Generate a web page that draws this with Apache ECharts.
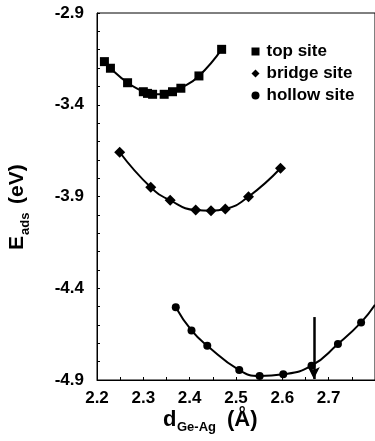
<!DOCTYPE html>
<html>
<head>
<meta charset="utf-8">
<script src="https://cdn.jsdelivr.net/npm/echarts@6/dist/echarts.min.js"></script>
<style>
html,body{margin:0;padding:0;background:#fff;}
#c{width:375px;height:441px;}
</style>
</head>
<body>
<div id="c"></div>
<script>
// ---- data ----
const xTickLabels = [2.2, 2.3, 2.4, 2.5, 2.6, 2.7];
const xTickValues = [2.2, 2.25, 2.3, 2.35, 2.4, 2.45, 2.5, 2.55, 2.6, 2.65, 2.7, 2.75, 2.8];
const yTickLabels = [-4.9, -4.4, -3.9, -3.4, -2.9];
const yTickValues = [-4.9, -4.8, -4.7, -4.6, -4.5, -4.4, -4.3, -4.2, -4.1, -4.0, -3.9, -3.8, -3.7, -3.6, -3.5, -3.4, -3.3, -3.2, -3.1, -3.0, -2.9];

const topX = [2.216, 2.229, 2.266, 2.300, 2.309, 2.320, 2.345, 2.363, 2.381, 2.420, 2.469];
const topY = [-3.165, -3.201, -3.280, -3.329, -3.338, -3.343, -3.343, -3.329, -3.310, -3.243, -3.098];

const bridgeX = [2.249, 2.316, 2.358, 2.413, 2.446, 2.477, 2.527, 2.596];
const bridgeY = [-3.659, -3.850, -3.921, -3.974, -3.977, -3.968, -3.901, -3.746];

const hollowX = [2.370, 2.404, 2.438, 2.507, 2.551, 2.602, 2.663, 2.720, 2.770];
const hollowY = [-4.503, -4.630, -4.713, -4.846, -4.878, -4.869, -4.822, -4.704, -4.586];

// fitted curve for the hollow site continues past the last point to the frame edge
const hollowFitX = [2.370, 2.404, 2.438, 2.507, 2.551, 2.602, 2.663, 2.720, 2.770, 2.800];
const hollowFitY = [-4.503, -4.630, -4.713, -4.846, -4.878, -4.869, -4.822, -4.704, -4.586, -4.490];

// arrow marking the hollow-site point
const arrowX = 2.668;
const arrowTopY = -4.557;
const arrowTipY = -4.895;

const seriesNames = ['top site', 'bridge site', 'hollow site'];

// ---- chart ----
const FONT = '"Liberation Sans", Arial, Helvetica, sans-serif';
const zip = (xs, ys) => xs.map((x, i) => [x, ys[i]]);

const chart = echarts.init(document.getElementById('c'), null, {renderer: 'canvas'});

chart.setOption({
  animation: false,
  backgroundColor: '#fff',
  grid: {
    left: 97, top: 13, width: 280, height: 367,
    show: true, borderColor: '#000', borderWidth: 1, backgroundColor: 'transparent'
  },
  legend: {
    orient: 'vertical',
    left: 251.5,
    top: 43,
    padding: 0,
    itemWidth: 8,
    itemHeight: 8,
    itemGap: 5,
    textStyle: {fontFamily: FONT, fontWeight: 'bold', fontSize: 17, color: '#000', padding: [0, 0, 0, 2]},
    data: [
      {name: seriesNames[0], icon: 'rect'},
      {name: seriesNames[1], icon: 'diamond'},
      {name: seriesNames[2], icon: 'circle'}
    ]
  },
  xAxis: {
    type: 'value',
    min: 2.2,
    max: 2.8,
    axisLine: {show: true, onZero: false, lineStyle: {color: '#000', width: 1}},
    axisTick: {show: true, inside: true, length: 3, lineStyle: {color: '#000', width: 1}, customValues: xTickValues},
    splitLine: {show: false},
    axisLabel: {
      customValues: xTickLabels,
      formatter: v => v.toFixed(1),
      fontFamily: FONT, fontWeight: 'bold', fontSize: 17, color: '#000', margin: 10
    }
  },
  yAxis: {
    type: 'value',
    min: -4.9,
    max: -2.9,
    axisLine: {show: true, onZero: false, lineStyle: {color: '#000', width: 1}},
    axisTick: {show: true, inside: true, length: 3, lineStyle: {color: '#000', width: 1}, customValues: yTickValues},
    splitLine: {show: false},
    axisLabel: {
      customValues: yTickLabels,
      formatter: v => v.toFixed(1),
      fontFamily: FONT, fontWeight: 'bold', fontSize: 17, color: '#000', margin: 13
    }
  },
  series: [
    {
      name: seriesNames[0],
      type: 'line',
      smooth: 0.5,
      data: zip(topX, topY),
      symbol: 'rect',
      symbolSize: 9,
      itemStyle: {color: '#000', opacity: 1},
      lineStyle: {color: '#000', width: 2}
    },
    {
      name: seriesNames[1],
      type: 'line',
      smooth: 0.5,
      data: zip(bridgeX, bridgeY),
      symbol: 'diamond',
      symbolSize: 11,
      itemStyle: {color: '#000', opacity: 1},
      lineStyle: {color: '#000', width: 2}
    },
    {
      name: 'hollow fit',
      type: 'line',
      smooth: 0.5,
      data: zip(hollowFitX, hollowFitY),
      symbol: 'none',
      lineStyle: {color: '#000', width: 2}
    },
    {
      name: seriesNames[2],
      type: 'scatter',
      data: zip(hollowX, hollowY),
      symbol: 'circle',
      symbolSize: 8,
      itemStyle: {color: '#000', opacity: 1},
      markLine: {
        silent: true,
        symbol: ['none', 'arrow'],
        symbolSize: [9, 12],
        label: {show: false},
        lineStyle: {color: '#000', width: 2.5, type: 'solid'},
        data: [[{coord: [arrowX, arrowTopY]}, {coord: [arrowX, arrowTipY]}]]
      }
    }
  ],
  graphic: [
    {
      type: 'group',
      x: 17.5, y: 250,
      rotation: Math.PI / 2,
      children: [
        {type: 'text', x: 0, y: 0, style: {text: 'E', fontFamily: FONT, fontWeight: 'bold', fontSize: 21, fill: '#000', align: 'left', verticalAlign: 'middle'}},
        {type: 'text', x: 15, y: 7.5, style: {text: 'ads', fontFamily: FONT, fontWeight: 'bold', fontSize: 13, fill: '#000', align: 'left', verticalAlign: 'middle'}},
        {type: 'text', x: 46, y: 0, style: {text: '(eV)', fontFamily: FONT, fontWeight: 'bold', fontSize: 21, fill: '#000', align: 'left', verticalAlign: 'middle'}}
      ]
    },
    {type: 'text', x: 163, y: 420, style: {text: 'd', fontFamily: FONT, fontWeight: 'bold', fontSize: 22, fill: '#000', align: 'left', verticalAlign: 'middle'}},
    {type: 'text', x: 177, y: 427, style: {text: 'Ge-Ag', fontFamily: FONT, fontWeight: 'bold', fontSize: 13, fill: '#000', align: 'left', verticalAlign: 'middle'}},
    {type: 'text', x: 227, y: 420, style: {text: '(Å)', fontFamily: FONT, fontWeight: 'bold', fontSize: 22, fill: '#000', align: 'left', verticalAlign: 'middle'}}
  ]
});
</script>
</body>
</html>
